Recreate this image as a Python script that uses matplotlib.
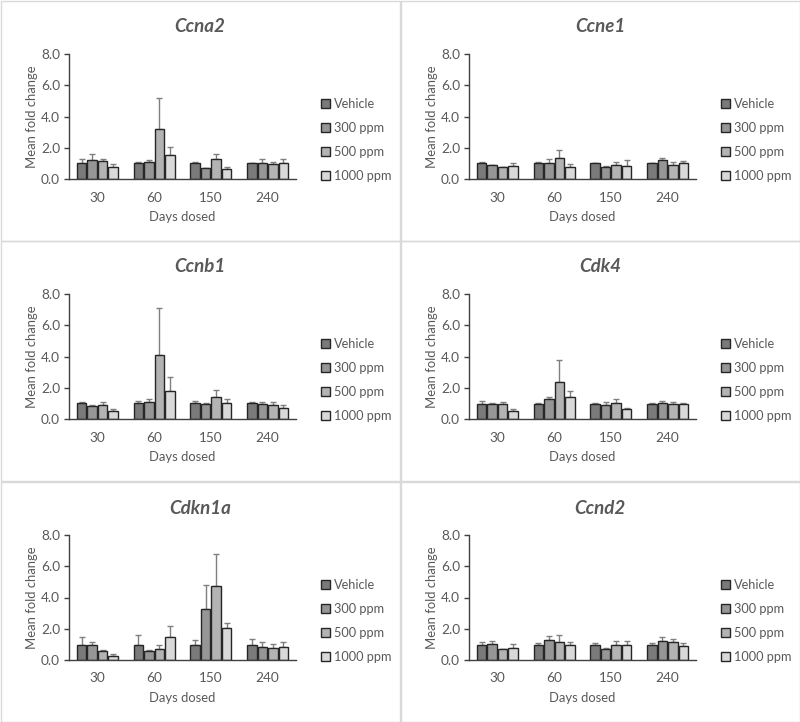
import numpy as np
import matplotlib
matplotlib.use("Agg")
import matplotlib.pyplot as plt
from matplotlib.patches import Rectangle

plt.rcParams['font.family'] = ['Lato', 'DejaVu Sans']

W, H = 800, 722

days = ['30', '60', '150', '240']
doses = ['Vehicle', '300 ppm', '500 ppm', '1000 ppm']
colors = ['#7a7a7a', '#969696', '#b3b3b3', '#d9d9d9']

genes = ['Ccna2', 'Ccne1', 'Ccnb1', 'Cdk4', 'Cdkn1a', 'Ccnd2']

# means per dose (rows) at each day (columns), and upper error (SEM)
ccna2_mean = [[1.00, 1.00, 1.00, 1.00],
              [1.20, 1.09, 0.69, 1.01],
              [1.14, 3.20, 1.27, 0.97],
              [0.77, 1.52, 0.62, 1.03]]
ccna2_err = [[0.27, 0.12, 0.09, 0.03],
             [0.39, 0.11, 0.03, 0.30],
             [0.17, 1.99, 0.36, 0.15],
             [0.17, 0.50, 0.17, 0.28]]

ccne1_mean = [[1.00, 1.00, 1.00, 1.00],
              [0.88, 1.03, 0.79, 1.22],
              [0.75, 1.37, 0.92, 0.92],
              [0.82, 0.79, 0.84, 1.05]]
ccne1_err = [[0.12, 0.09, 0.05, 0.02],
             [0.02, 0.26, 0.05, 0.13],
             [0.01, 0.48, 0.17, 0.20],
             [0.21, 0.20, 0.38, 0.09]]

ccnb1_mean = [[1.01, 1.01, 1.01, 1.01],
              [0.82, 1.09, 0.97, 0.99],
              [0.90, 4.10, 1.42, 0.90],
              [0.52, 1.78, 1.05, 0.73]]
ccnb1_err = [[0.11, 0.13, 0.17, 0.06],
             [0.08, 0.20, 0.03, 0.13],
             [0.17, 2.98, 0.43, 0.17],
             [0.12, 0.88, 0.24, 0.15]]

cdk4_mean = [[0.99, 0.99, 0.99, 0.99],
             [0.94, 1.27, 0.90, 1.01],
             [0.94, 2.40, 1.05, 0.97],
             [0.54, 1.44, 0.67, 0.99]]
cdk4_err = [[0.17, 0.04, 0.02, 0.02],
            [0.09, 0.15, 0.19, 0.13],
            [0.18, 1.40, 0.24, 0.12],
            [0.08, 0.38, 0.02, 0.04]]

cdkn1a_mean = [[0.99, 0.99, 0.99, 0.99],
               [0.99, 0.56, 3.28, 0.84],
               [0.60, 0.69, 4.76, 0.75],
               [0.28, 1.50, 2.02, 0.82]]
cdkn1a_err = [[0.49, 0.60, 0.28, 0.36],
              [0.19, 0.08, 1.51, 0.30],
              [0.04, 0.25, 2.00, 0.26],
              [0.08, 0.69, 0.38, 0.34]]

ccnd2_mean = [[0.99, 0.99, 0.99, 0.99],
              [1.01, 1.29, 0.69, 1.20],
              [0.69, 1.18, 0.97, 1.14],
              [0.75, 0.97, 0.94, 0.92]]
ccnd2_err = [[0.15, 0.13, 0.13, 0.13],
             [0.19, 0.26, 0.10, 0.28],
             [0.04, 0.43, 0.25, 0.21],
             [0.28, 0.21, 0.28, 0.17]]

means = [ccna2_mean, ccne1_mean, ccnb1_mean, cdk4_mean, cdkn1a_mean, ccnd2_mean]
errs = [ccna2_err, ccne1_err, ccnb1_err, cdk4_err, cdkn1a_err, ccnd2_err]

text_c = '#595959'
fig = plt.figure(figsize=(W / 100, H / 100), dpi=100)

col_x = [0, 400]
row_y = [0, 240, 481]
panel_w, panel_h = 400, 241

step = 0.185
bw = 0.165
x = np.arange(len(days))

for k, gene in enumerate(genes):
    px = col_x[k % 2]
    py = row_y[k // 2]

    # panel border
    fig.patches.append(Rectangle((px / W + 0.5 / W, 1 - (py + panel_h) / H), (panel_w - 1) / W, (panel_h - 1) / H,
                                 transform=fig.transFigure, fill=False, edgecolor='#d9d9d9', linewidth=1))

    ax_left, ax_right = px + 69, px + 296
    ax_top, ax_bot = py + 54, py + 179
    ax = fig.add_axes([ax_left / W, 1 - ax_bot / H, (ax_right - ax_left) / W, (ax_bot - ax_top) / H])

    for i, dose in enumerate(doses):
        xs = x + (i - 1.5) * step
        ax.bar(xs, means[k][i], width=bw, color=colors[i], edgecolor='#262626', linewidth=1,
               label=dose, zorder=2)
        ax.errorbar(xs, means[k][i], yerr=[np.zeros(4), errs[k][i]], fmt='none', ecolor='#7f7f7f',
                    elinewidth=1, capsize=2.5, capthick=1, zorder=1)

    ax.set_xlim(-0.5, 3.5)
    ax.set_ylim(0, 8)
    ax.set_yticks([0, 2, 4, 6, 8])
    ax.set_yticklabels(['0.0', '2.0', '4.0', '6.0', '8.0'])
    ax.set_xticks(x)
    ax.set_xticklabels(days)
    for s in ['top', 'right']:
        ax.spines[s].set_visible(False)
    for s in ['left', 'bottom']:
        ax.spines[s].set_color('#404040')
        ax.spines[s].set_linewidth(1)
    ax.tick_params(axis='x', length=0, pad=9, labelsize=9.8, colors=text_c)
    ax.tick_params(axis='y', length=3.5, width=1, color='#404040', pad=3, labelsize=9.8, labelcolor=text_c)
    ax.set_ylabel('Mean fold change', fontsize=9.4, color=text_c)
    ax.yaxis.set_label_coords(-0.135, 0.5)
    ax.set_xlabel('Days dosed', fontsize=9.4, color=text_c)
    ax.xaxis.set_label_coords(0.5, -0.255)
    ax.xaxis.label.set_va('top')

    fig.text((px + 200) / W, 1 - (py + 27) / H, gene, ha='center', va='center', fontsize=13.5,
             fontweight='bold', fontstyle='italic', color=text_c)

    ax.legend(loc='center left', bbox_to_anchor=((px + 321) / W, 1 - (py + 140) / H),
              bbox_transform=fig.transFigure, frameon=False, fontsize=9.2, labelcolor=text_c,
              handlelength=0.7, handleheight=0.7, handletextpad=0.3, labelspacing=0.92,
              borderpad=0, borderaxespad=0)

fig.savefig('out.png', dpi=100)
